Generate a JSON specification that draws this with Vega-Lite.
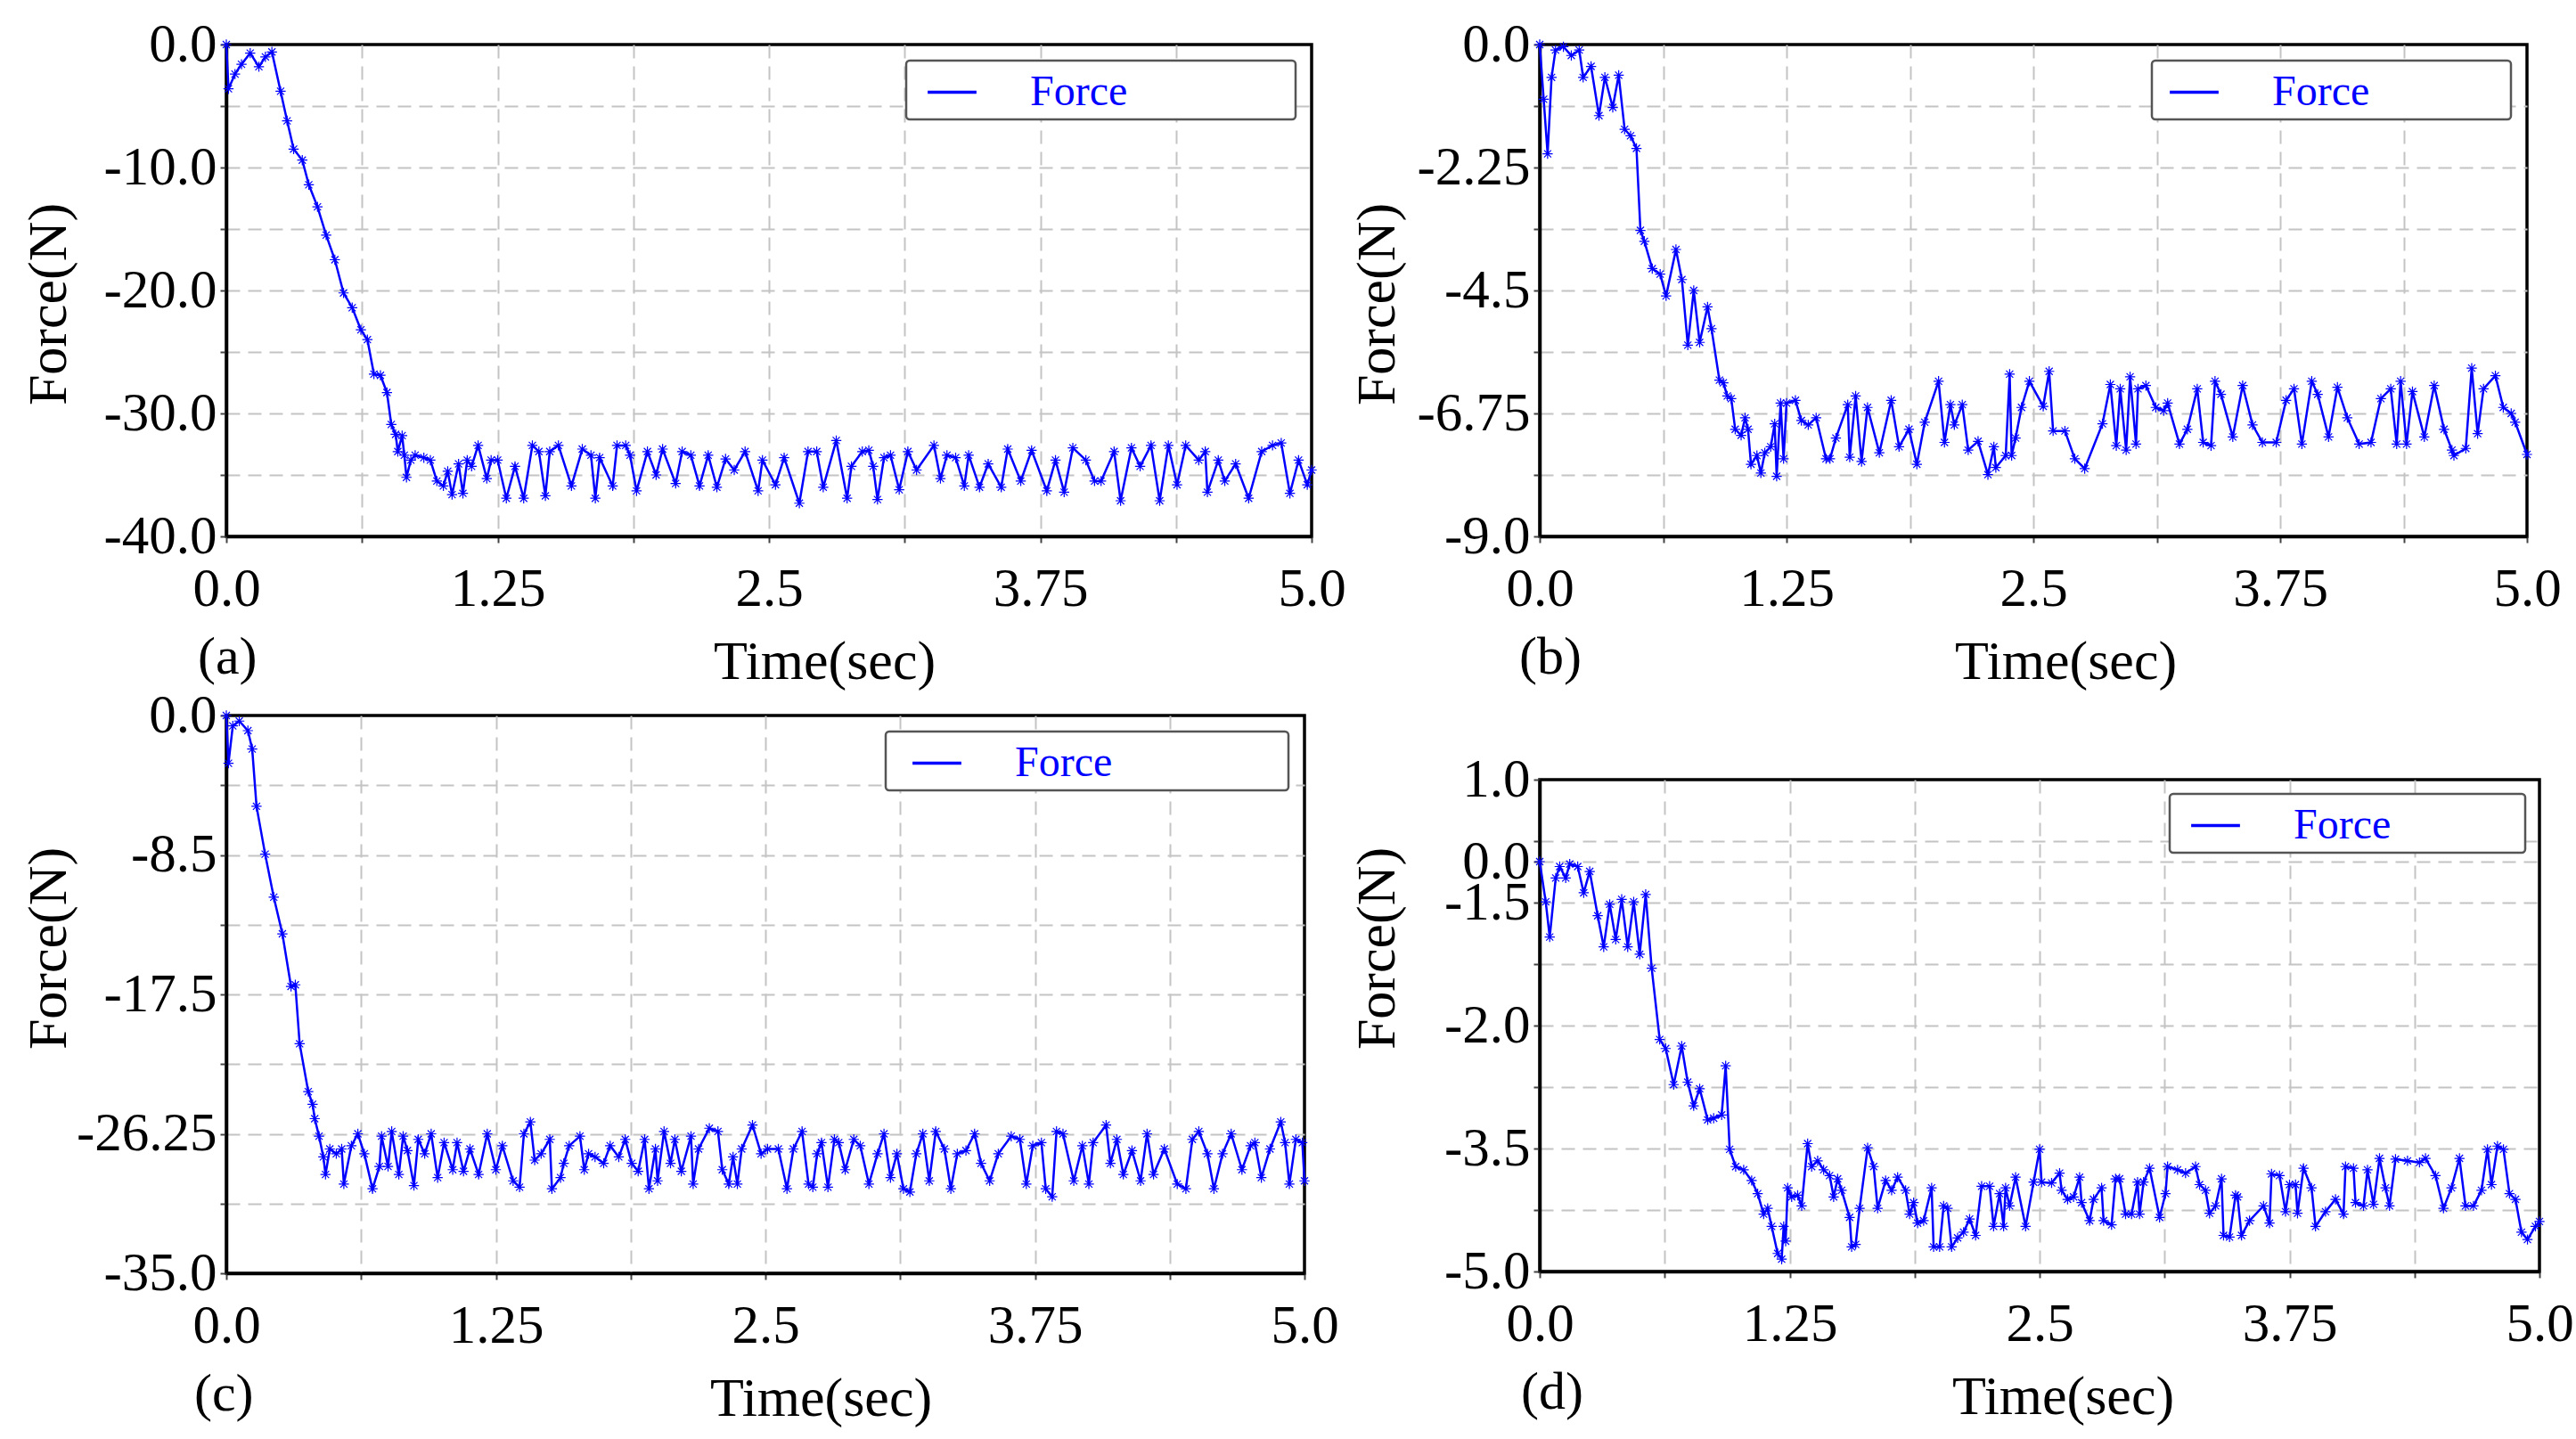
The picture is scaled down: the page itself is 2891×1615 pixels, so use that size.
{
  "$schema": "https://vega.github.io/schema/vega-lite/v6.json",
  "description": "Force vs time, four panels (a)-(d)",
  "background": "white",
  "padding": {"left": 21, "top": 17, "right": 5, "bottom": 5},
  "config": {
    "font": "Liberation Serif",
    "view": {"stroke": "black", "strokeWidth": 3.5},
    "axis": {
      "domainColor": "black", "domainWidth": 3.5,
      "grid": true, "gridColor": "#c4c4c4", "gridDash": [15, 9], "gridWidth": 2,
      "tickColor": "#444", "tickWidth": 2, "tickSize": 7,
      "labelFont": "Liberation Serif", "labelFontSize": 61, "labelColor": "black", "labelPadding": 4,
      "titleFont": "Liberation Serif", "titleFontSize": 62, "titleFontWeight": "normal", "titleColor": "black",
      "labelFlush": false, "labelOverlap": false, "labelBound": false
    },
    "axisX": {"labelPadding": 22, "titleBaseline": "alphabetic", "titleY": 159, "titleAnchor": "middle", "titleAlign": "center",
      "gridOpacity": {"condition": {"test": "datum.value == 0 || datum.value == 5", "value": 0}, "value": 1}},
    "axisY": {"titleBaseline": "middle", "titleAngle": -90},
    "legend": {
      "title": null, "orient": "top-right", "offset": 18,
      "fillColor": "white", "strokeColor": "#555", "strokeWidth": 2.5, "cornerRadius": 4, "padding": 6,
      "symbolSize": 3000, "symbolStrokeWidth": 3.5, "symbolStrokeColor": "#0000ff", "symbolFillColor": "transparent", "symbolOffset": 16,
      "labelOffset": 58, "labelFont": "Liberation Serif", "labelFontSize": 48, "labelColor": "#0000ff", "labelLimit": 600
    },
    "title": {"orient": "bottom", "anchor": "start", "frame": "group", "font": "Liberation Serif", "fontSize": 60, "fontWeight": "normal", "color": "black", "baseline": "top", "offset": 0}
  },
  "datasets": {
    "a": [
      {"t": 0, "f": 0}, {"t": 0.01, "f": -3.6}, {"t": 0.04, "f": -2.4}, {"t": 0.07, "f": -1.6}, {"t": 0.11, "f": -0.7},
      {"t": 0.15, "f": -1.8}, {"t": 0.18, "f": -1.0}, {"t": 0.21, "f": -0.6}, {"t": 0.25, "f": -3.8}, {"t": 0.28, "f": -6.2},
      {"t": 0.31, "f": -8.5}, {"t": 0.35, "f": -9.4}, {"t": 0.38, "f": -11.4}, {"t": 0.42, "f": -13.2}, {"t": 0.46, "f": -15.5},
      {"t": 0.5, "f": -17.5}, {"t": 0.54, "f": -20.2}, {"t": 0.58, "f": -21.4}, {"t": 0.62, "f": -23.2}, {"t": 0.65, "f": -24.0},
      {"t": 0.68, "f": -26.8}, {"t": 0.71, "f": -26.9}, {"t": 0.74, "f": -28.3}, {"t": 0.76, "f": -30.9}, {"t": 0.78, "f": -31.7},
      {"t": 0.79, "f": -33.1}, {"t": 0.81, "f": -31.8}, {"t": 0.82, "f": -33.4}, {"t": 0.83, "f": -35.2}, {"t": 0.85, "f": -33.8},
      {"t": 0.87, "f": -33.4}, {"t": 0.91, "f": -33.6}, {"t": 0.94, "f": -33.8}, {"t": 0.97, "f": -35.5}, {"t": 1.0, "f": -35.9},
      {"t": 1.02, "f": -34.7}, {"t": 1.04, "f": -36.6}, {"t": 1.07, "f": -34.1}, {"t": 1.09, "f": -36.5}, {"t": 1.11, "f": -33.8},
      {"t": 1.13, "f": -34.3}, {"t": 1.16, "f": -32.6}, {"t": 1.2, "f": -35.3}, {"t": 1.22, "f": -33.8}, {"t": 1.25, "f": -33.8},
      {"t": 1.29, "f": -36.9}, {"t": 1.33, "f": -34.3}, {"t": 1.37, "f": -36.9}, {"t": 1.41, "f": -32.6}, {"t": 1.44, "f": -33.1},
      {"t": 1.47, "f": -36.7}, {"t": 1.49, "f": -33.1}, {"t": 1.53, "f": -32.6}, {"t": 1.59, "f": -35.9}, {"t": 1.64, "f": -32.9},
      {"t": 1.68, "f": -33.4}, {"t": 1.7, "f": -36.9}, {"t": 1.72, "f": -33.6}, {"t": 1.78, "f": -35.9}, {"t": 1.8, "f": -32.6},
      {"t": 1.84, "f": -32.6}, {"t": 1.86, "f": -33.4}, {"t": 1.89, "f": -36.3}, {"t": 1.94, "f": -33.1}, {"t": 1.98, "f": -35.0},
      {"t": 2.01, "f": -32.9}, {"t": 2.07, "f": -35.7}, {"t": 2.1, "f": -33.1}, {"t": 2.14, "f": -33.4}, {"t": 2.18, "f": -35.9},
      {"t": 2.22, "f": -33.4}, {"t": 2.26, "f": -36.0}, {"t": 2.3, "f": -33.7}, {"t": 2.34, "f": -34.6}, {"t": 2.39, "f": -33.1},
      {"t": 2.45, "f": -36.3}, {"t": 2.47, "f": -33.8}, {"t": 2.53, "f": -35.8}, {"t": 2.57, "f": -33.6}, {"t": 2.64, "f": -37.3},
      {"t": 2.68, "f": -33.1}, {"t": 2.72, "f": -33.1}, {"t": 2.75, "f": -36.0}, {"t": 2.81, "f": -32.2}, {"t": 2.86, "f": -36.9},
      {"t": 2.88, "f": -34.3}, {"t": 2.93, "f": -33.1}, {"t": 2.96, "f": -33.0}, {"t": 2.98, "f": -34.3}, {"t": 3.0, "f": -37.0},
      {"t": 3.03, "f": -33.6}, {"t": 3.06, "f": -33.4}, {"t": 3.1, "f": -36.2}, {"t": 3.14, "f": -33.1}, {"t": 3.18, "f": -34.6},
      {"t": 3.26, "f": -32.6}, {"t": 3.29, "f": -35.3}, {"t": 3.32, "f": -33.4}, {"t": 3.36, "f": -33.6}, {"t": 3.4, "f": -35.9},
      {"t": 3.42, "f": -33.4}, {"t": 3.47, "f": -36.0}, {"t": 3.51, "f": -34.1}, {"t": 3.57, "f": -36.0}, {"t": 3.6, "f": -32.9},
      {"t": 3.66, "f": -35.5}, {"t": 3.71, "f": -33.0}, {"t": 3.78, "f": -36.3}, {"t": 3.82, "f": -33.8}, {"t": 3.86, "f": -36.4},
      {"t": 3.9, "f": -32.8}, {"t": 3.96, "f": -33.8}, {"t": 4.0, "f": -35.5}, {"t": 4.03, "f": -35.5}, {"t": 4.09, "f": -33.1},
      {"t": 4.12, "f": -37.1}, {"t": 4.17, "f": -32.8}, {"t": 4.21, "f": -34.3}, {"t": 4.26, "f": -32.6}, {"t": 4.3, "f": -37.1},
      {"t": 4.34, "f": -32.6}, {"t": 4.38, "f": -35.8}, {"t": 4.42, "f": -32.6}, {"t": 4.48, "f": -33.8}, {"t": 4.51, "f": -33.1},
      {"t": 4.52, "f": -36.4}, {"t": 4.57, "f": -33.8}, {"t": 4.6, "f": -35.5}, {"t": 4.65, "f": -34.1}, {"t": 4.71, "f": -36.9},
      {"t": 4.77, "f": -33.1}, {"t": 4.82, "f": -32.6}, {"t": 4.86, "f": -32.4}, {"t": 4.9, "f": -36.5}, {"t": 4.94, "f": -33.8},
      {"t": 4.98, "f": -35.8}, {"t": 5.0, "f": -34.6}
    ],
    "b": [
      {"t": 0, "f": 0}, {"t": 0.02, "f": -1.0}, {"t": 0.04, "f": -2.0}, {"t": 0.06, "f": -0.6}, {"t": 0.08, "f": -0.1},
      {"t": 0.12, "f": -0.04}, {"t": 0.16, "f": -0.2}, {"t": 0.2, "f": -0.1}, {"t": 0.22, "f": -0.6}, {"t": 0.26, "f": -0.4},
      {"t": 0.3, "f": -1.3}, {"t": 0.33, "f": -0.6}, {"t": 0.37, "f": -1.15}, {"t": 0.4, "f": -0.56}, {"t": 0.43, "f": -1.55},
      {"t": 0.46, "f": -1.67}, {"t": 0.49, "f": -1.9}, {"t": 0.51, "f": -3.4}, {"t": 0.53, "f": -3.6}, {"t": 0.57, "f": -4.1},
      {"t": 0.61, "f": -4.2}, {"t": 0.64, "f": -4.6}, {"t": 0.69, "f": -3.75}, {"t": 0.72, "f": -4.3}, {"t": 0.75, "f": -5.5},
      {"t": 0.78, "f": -4.5}, {"t": 0.81, "f": -5.45}, {"t": 0.85, "f": -4.8}, {"t": 0.87, "f": -5.2}, {"t": 0.91, "f": -6.14},
      {"t": 0.93, "f": -6.19}, {"t": 0.95, "f": -6.43}, {"t": 0.97, "f": -6.48}, {"t": 0.99, "f": -7.04}, {"t": 1.02, "f": -7.15},
      {"t": 1.04, "f": -6.83}, {"t": 1.055, "f": -7.04}, {"t": 1.07, "f": -7.68}, {"t": 1.1, "f": -7.52}, {"t": 1.12, "f": -7.84},
      {"t": 1.14, "f": -7.47}, {"t": 1.17, "f": -7.36}, {"t": 1.19, "f": -6.94}, {"t": 1.2, "f": -7.9}, {"t": 1.22, "f": -6.56},
      {"t": 1.235, "f": -7.58}, {"t": 1.25, "f": -6.56}, {"t": 1.295, "f": -6.51}, {"t": 1.325, "f": -6.88}, {"t": 1.36, "f": -6.96},
      {"t": 1.4, "f": -6.83}, {"t": 1.45, "f": -7.58}, {"t": 1.47, "f": -7.58}, {"t": 1.5, "f": -7.2}, {"t": 1.56, "f": -6.59},
      {"t": 1.57, "f": -7.55}, {"t": 1.6, "f": -6.43}, {"t": 1.63, "f": -7.63}, {"t": 1.66, "f": -6.64}, {"t": 1.72, "f": -7.47},
      {"t": 1.78, "f": -6.51}, {"t": 1.82, "f": -7.36}, {"t": 1.87, "f": -7.04}, {"t": 1.91, "f": -7.68}, {"t": 1.95, "f": -6.91},
      {"t": 2.02, "f": -6.16}, {"t": 2.05, "f": -7.28}, {"t": 2.08, "f": -6.59}, {"t": 2.1, "f": -6.96}, {"t": 2.14, "f": -6.59},
      {"t": 2.17, "f": -7.42}, {"t": 2.22, "f": -7.26}, {"t": 2.27, "f": -7.87}, {"t": 2.3, "f": -7.36}, {"t": 2.31, "f": -7.74},
      {"t": 2.36, "f": -7.52}, {"t": 2.38, "f": -6.03}, {"t": 2.39, "f": -7.52}, {"t": 2.41, "f": -7.2}, {"t": 2.44, "f": -6.64},
      {"t": 2.48, "f": -6.16}, {"t": 2.55, "f": -6.62}, {"t": 2.58, "f": -5.98}, {"t": 2.6, "f": -7.07}, {"t": 2.66, "f": -7.07},
      {"t": 2.71, "f": -7.58}, {"t": 2.76, "f": -7.76}, {"t": 2.85, "f": -6.94}, {"t": 2.89, "f": -6.22}, {"t": 2.92, "f": -7.34},
      {"t": 2.94, "f": -6.3}, {"t": 2.97, "f": -7.42}, {"t": 2.99, "f": -6.08}, {"t": 3.02, "f": -7.31}, {"t": 3.03, "f": -6.3},
      {"t": 3.07, "f": -6.24}, {"t": 3.12, "f": -6.64}, {"t": 3.16, "f": -6.7}, {"t": 3.18, "f": -6.56}, {"t": 3.24, "f": -7.31},
      {"t": 3.28, "f": -7.04}, {"t": 3.33, "f": -6.3}, {"t": 3.36, "f": -7.28}, {"t": 3.4, "f": -7.34}, {"t": 3.42, "f": -6.16},
      {"t": 3.45, "f": -6.4}, {"t": 3.51, "f": -7.18}, {"t": 3.56, "f": -6.24}, {"t": 3.61, "f": -6.96}, {"t": 3.66, "f": -7.28},
      {"t": 3.73, "f": -7.28}, {"t": 3.78, "f": -6.51}, {"t": 3.82, "f": -6.3}, {"t": 3.86, "f": -7.31}, {"t": 3.91, "f": -6.16},
      {"t": 3.94, "f": -6.4}, {"t": 3.995, "f": -7.18}, {"t": 4.04, "f": -6.27}, {"t": 4.09, "f": -6.83}, {"t": 4.15, "f": -7.31},
      {"t": 4.21, "f": -7.28}, {"t": 4.26, "f": -6.48}, {"t": 4.31, "f": -6.3}, {"t": 4.34, "f": -7.31}, {"t": 4.36, "f": -6.16},
      {"t": 4.39, "f": -7.31}, {"t": 4.42, "f": -6.35}, {"t": 4.48, "f": -7.18}, {"t": 4.53, "f": -6.24}, {"t": 4.58, "f": -7.04},
      {"t": 4.62, "f": -7.42}, {"t": 4.63, "f": -7.52}, {"t": 4.69, "f": -7.39}, {"t": 4.72, "f": -5.92}, {"t": 4.75, "f": -7.12},
      {"t": 4.78, "f": -6.3}, {"t": 4.84, "f": -6.06}, {"t": 4.88, "f": -6.64}, {"t": 4.92, "f": -6.75}, {"t": 4.94, "f": -6.91},
      {"t": 5.0, "f": -7.5}
    ],
    "c": [
      {"t": 0, "f": 0}, {"t": 0.01, "f": -3.0}, {"t": 0.03, "f": -0.65}, {"t": 0.06, "f": -0.35}, {"t": 0.1, "f": -0.95},
      {"t": 0.12, "f": -2.1}, {"t": 0.14, "f": -5.7}, {"t": 0.18, "f": -8.7}, {"t": 0.22, "f": -11.4}, {"t": 0.26, "f": -13.7},
      {"t": 0.3, "f": -17.0}, {"t": 0.32, "f": -16.9}, {"t": 0.34, "f": -20.6}, {"t": 0.38, "f": -23.6}, {"t": 0.4, "f": -24.4},
      {"t": 0.41, "f": -25.3}, {"t": 0.43, "f": -26.4}, {"t": 0.45, "f": -27.7}, {"t": 0.46, "f": -28.8}, {"t": 0.48, "f": -27.2},
      {"t": 0.51, "f": -27.5}, {"t": 0.535, "f": -27.2}, {"t": 0.545, "f": -29.4}, {"t": 0.58, "f": -27.0}, {"t": 0.61, "f": -26.25},
      {"t": 0.64, "f": -27.5}, {"t": 0.678, "f": -29.7}, {"t": 0.71, "f": -28.3}, {"t": 0.72, "f": -26.4}, {"t": 0.75, "f": -28.3},
      {"t": 0.767, "f": -26.1}, {"t": 0.8, "f": -28.8}, {"t": 0.82, "f": -26.4}, {"t": 0.84, "f": -27.3}, {"t": 0.87, "f": -29.5},
      {"t": 0.89, "f": -26.6}, {"t": 0.92, "f": -27.5}, {"t": 0.95, "f": -26.25}, {"t": 0.98, "f": -29.0}, {"t": 1.01, "f": -26.8},
      {"t": 1.05, "f": -28.5}, {"t": 1.07, "f": -26.8}, {"t": 1.1, "f": -28.6}, {"t": 1.13, "f": -27.2}, {"t": 1.17, "f": -28.8},
      {"t": 1.21, "f": -26.25}, {"t": 1.25, "f": -28.5}, {"t": 1.28, "f": -27.0}, {"t": 1.33, "f": -29.2}, {"t": 1.36, "f": -29.6},
      {"t": 1.38, "f": -26.25}, {"t": 1.41, "f": -25.5}, {"t": 1.43, "f": -27.9}, {"t": 1.46, "f": -27.5}, {"t": 1.5, "f": -26.6},
      {"t": 1.51, "f": -29.7}, {"t": 1.55, "f": -29.0}, {"t": 1.565, "f": -28.1}, {"t": 1.59, "f": -27.0}, {"t": 1.64, "f": -26.4},
      {"t": 1.66, "f": -28.5}, {"t": 1.68, "f": -27.5}, {"t": 1.71, "f": -27.7}, {"t": 1.75, "f": -28.1}, {"t": 1.78, "f": -27.0},
      {"t": 1.82, "f": -27.7}, {"t": 1.85, "f": -26.6}, {"t": 1.88, "f": -28.1}, {"t": 1.91, "f": -28.6}, {"t": 1.94, "f": -26.6},
      {"t": 1.96, "f": -29.7}, {"t": 1.99, "f": -27.2}, {"t": 2.0, "f": -29.2}, {"t": 2.03, "f": -26.1}, {"t": 2.06, "f": -28.1},
      {"t": 2.08, "f": -26.6}, {"t": 2.11, "f": -28.6}, {"t": 2.155, "f": -26.4}, {"t": 2.165, "f": -29.4}, {"t": 2.19, "f": -27.2},
      {"t": 2.24, "f": -25.9}, {"t": 2.28, "f": -26.1}, {"t": 2.3, "f": -28.5}, {"t": 2.33, "f": -29.4}, {"t": 2.35, "f": -27.7},
      {"t": 2.37, "f": -29.4}, {"t": 2.39, "f": -27.2}, {"t": 2.44, "f": -25.7}, {"t": 2.48, "f": -27.5}, {"t": 2.51, "f": -27.2},
      {"t": 2.56, "f": -27.2}, {"t": 2.6, "f": -29.7}, {"t": 2.63, "f": -27.2}, {"t": 2.67, "f": -26.1}, {"t": 2.7, "f": -29.4},
      {"t": 2.72, "f": -29.6}, {"t": 2.74, "f": -27.5}, {"t": 2.76, "f": -26.8}, {"t": 2.79, "f": -29.6}, {"t": 2.82, "f": -26.6},
      {"t": 2.84, "f": -26.8}, {"t": 2.87, "f": -28.5}, {"t": 2.91, "f": -26.6}, {"t": 2.94, "f": -27.0}, {"t": 2.98, "f": -29.4},
      {"t": 3.02, "f": -27.5}, {"t": 3.05, "f": -26.25}, {"t": 3.08, "f": -29.0}, {"t": 3.11, "f": -27.5}, {"t": 3.14, "f": -29.7},
      {"t": 3.17, "f": -29.9}, {"t": 3.2, "f": -27.5}, {"t": 3.23, "f": -26.25}, {"t": 3.26, "f": -29.2}, {"t": 3.29, "f": -26.1},
      {"t": 3.33, "f": -27.2}, {"t": 3.36, "f": -29.7}, {"t": 3.39, "f": -27.5}, {"t": 3.43, "f": -27.3}, {"t": 3.47, "f": -26.25},
      {"t": 3.5, "f": -28.1}, {"t": 3.54, "f": -29.2}, {"t": 3.58, "f": -27.5}, {"t": 3.64, "f": -26.4}, {"t": 3.68, "f": -26.6},
      {"t": 3.71, "f": -29.4}, {"t": 3.74, "f": -27.0}, {"t": 3.78, "f": -26.8}, {"t": 3.8, "f": -29.7}, {"t": 3.83, "f": -30.2},
      {"t": 3.85, "f": -26.1}, {"t": 3.88, "f": -26.25}, {"t": 3.93, "f": -29.2}, {"t": 3.97, "f": -27.0}, {"t": 4.0, "f": -29.4},
      {"t": 4.02, "f": -26.8}, {"t": 4.08, "f": -25.7}, {"t": 4.1, "f": -28.1}, {"t": 4.13, "f": -26.6}, {"t": 4.16, "f": -28.8},
      {"t": 4.2, "f": -27.3}, {"t": 4.24, "f": -29.2}, {"t": 4.27, "f": -26.25}, {"t": 4.3, "f": -28.8}, {"t": 4.35, "f": -27.2},
      {"t": 4.41, "f": -29.4}, {"t": 4.45, "f": -29.7}, {"t": 4.48, "f": -26.6}, {"t": 4.51, "f": -26.1}, {"t": 4.55, "f": -27.5},
      {"t": 4.58, "f": -29.7}, {"t": 4.62, "f": -27.5}, {"t": 4.66, "f": -26.25}, {"t": 4.71, "f": -28.5}, {"t": 4.75, "f": -27.0},
      {"t": 4.77, "f": -26.8}, {"t": 4.8, "f": -29.0}, {"t": 4.84, "f": -27.2}, {"t": 4.89, "f": -25.5}, {"t": 4.91, "f": -26.8},
      {"t": 4.93, "f": -29.4}, {"t": 4.96, "f": -26.6}, {"t": 4.99, "f": -26.8}, {"t": 5.0, "f": -29.2}
    ],
    "d": [
      {"t": 0, "f": 0}, {"t": 0.03, "f": -0.49}, {"t": 0.05, "f": -0.92}, {"t": 0.08, "f": -0.2}, {"t": 0.1, "f": -0.06},
      {"t": 0.13, "f": -0.2}, {"t": 0.15, "f": -0.03}, {"t": 0.19, "f": -0.06}, {"t": 0.22, "f": -0.38}, {"t": 0.25, "f": -0.12},
      {"t": 0.29, "f": -0.66}, {"t": 0.32, "f": -1.04}, {"t": 0.35, "f": -0.52}, {"t": 0.38, "f": -0.95}, {"t": 0.41, "f": -0.46},
      {"t": 0.44, "f": -1.04}, {"t": 0.47, "f": -0.49}, {"t": 0.5, "f": -1.13}, {"t": 0.53, "f": -0.4}, {"t": 0.56, "f": -1.3},
      {"t": 0.6, "f": -2.17}, {"t": 0.63, "f": -2.28}, {"t": 0.67, "f": -2.72}, {"t": 0.71, "f": -2.25}, {"t": 0.74, "f": -2.69},
      {"t": 0.77, "f": -2.98}, {"t": 0.8, "f": -2.77}, {"t": 0.84, "f": -3.15}, {"t": 0.87, "f": -3.13}, {"t": 0.91, "f": -3.09},
      {"t": 0.93, "f": -2.49}, {"t": 0.95, "f": -3.51}, {"t": 0.98, "f": -3.72}, {"t": 1.02, "f": -3.76}, {"t": 1.06, "f": -3.89},
      {"t": 1.09, "f": -4.05}, {"t": 1.12, "f": -4.3}, {"t": 1.14, "f": -4.23}, {"t": 1.16, "f": -4.45}, {"t": 1.19, "f": -4.78},
      {"t": 1.21, "f": -4.85}, {"t": 1.22, "f": -4.45}, {"t": 1.23, "f": -4.63}, {"t": 1.24, "f": -3.98}, {"t": 1.26, "f": -4.09},
      {"t": 1.29, "f": -4.07}, {"t": 1.31, "f": -4.2}, {"t": 1.34, "f": -3.44}, {"t": 1.36, "f": -3.72}, {"t": 1.39, "f": -3.65},
      {"t": 1.42, "f": -3.76}, {"t": 1.45, "f": -3.83}, {"t": 1.47, "f": -4.09}, {"t": 1.49, "f": -3.87}, {"t": 1.51, "f": -4.01},
      {"t": 1.55, "f": -4.34}, {"t": 1.56, "f": -4.7}, {"t": 1.58, "f": -4.67}, {"t": 1.6, "f": -4.23}, {"t": 1.64, "f": -3.49},
      {"t": 1.67, "f": -3.72}, {"t": 1.69, "f": -4.23}, {"t": 1.73, "f": -3.89}, {"t": 1.76, "f": -4.01}, {"t": 1.79, "f": -3.85},
      {"t": 1.83, "f": -4.01}, {"t": 1.85, "f": -4.3}, {"t": 1.87, "f": -4.16}, {"t": 1.89, "f": -4.41}, {"t": 1.92, "f": -4.38},
      {"t": 1.96, "f": -3.98}, {"t": 1.97, "f": -4.7}, {"t": 2.0, "f": -4.7}, {"t": 2.02, "f": -4.2}, {"t": 2.04, "f": -4.23},
      {"t": 2.06, "f": -4.7}, {"t": 2.09, "f": -4.59}, {"t": 2.12, "f": -4.52}, {"t": 2.15, "f": -4.36}, {"t": 2.18, "f": -4.56},
      {"t": 2.21, "f": -3.96}, {"t": 2.25, "f": -3.96}, {"t": 2.27, "f": -4.45}, {"t": 2.3, "f": -4.05}, {"t": 2.32, "f": -4.45},
      {"t": 2.33, "f": -3.98}, {"t": 2.35, "f": -4.2}, {"t": 2.38, "f": -3.85}, {"t": 2.43, "f": -4.45}, {"t": 2.47, "f": -3.91},
      {"t": 2.5, "f": -3.51}, {"t": 2.51, "f": -3.91}, {"t": 2.56, "f": -3.92}, {"t": 2.6, "f": -3.8}, {"t": 2.61, "f": -4.01},
      {"t": 2.64, "f": -4.12}, {"t": 2.67, "f": -4.09}, {"t": 2.7, "f": -3.85}, {"t": 2.71, "f": -4.16}, {"t": 2.75, "f": -4.38},
      {"t": 2.77, "f": -4.12}, {"t": 2.81, "f": -3.98}, {"t": 2.82, "f": -4.38}, {"t": 2.86, "f": -4.43}, {"t": 2.88, "f": -3.87},
      {"t": 2.9, "f": -3.87}, {"t": 2.93, "f": -4.3}, {"t": 2.96, "f": -4.3}, {"t": 2.99, "f": -3.91}, {"t": 3.0, "f": -4.3},
      {"t": 3.02, "f": -3.91}, {"t": 3.05, "f": -3.74}, {"t": 3.1, "f": -4.34}, {"t": 3.13, "f": -4.05}, {"t": 3.14, "f": -3.72},
      {"t": 3.19, "f": -3.76}, {"t": 3.23, "f": -3.8}, {"t": 3.28, "f": -3.72}, {"t": 3.3, "f": -3.94}, {"t": 3.33, "f": -4.01},
      {"t": 3.35, "f": -4.29}, {"t": 3.38, "f": -4.2}, {"t": 3.41, "f": -3.87}, {"t": 3.42, "f": -4.56}, {"t": 3.45, "f": -4.58},
      {"t": 3.48, "f": -4.07}, {"t": 3.49, "f": -4.09}, {"t": 3.51, "f": -4.56}, {"t": 3.55, "f": -4.38}, {"t": 3.62, "f": -4.2},
      {"t": 3.65, "f": -4.41}, {"t": 3.66, "f": -3.81}, {"t": 3.7, "f": -3.83}, {"t": 3.73, "f": -4.27}, {"t": 3.75, "f": -3.94},
      {"t": 3.78, "f": -3.94}, {"t": 3.79, "f": -4.29}, {"t": 3.82, "f": -3.74}, {"t": 3.86, "f": -3.98}, {"t": 3.88, "f": -4.45},
      {"t": 3.93, "f": -4.27}, {"t": 3.98, "f": -4.12}, {"t": 4.02, "f": -4.3}, {"t": 4.03, "f": -3.72}, {"t": 4.07, "f": -3.74},
      {"t": 4.08, "f": -4.16}, {"t": 4.12, "f": -4.2}, {"t": 4.14, "f": -3.76}, {"t": 4.17, "f": -4.18}, {"t": 4.2, "f": -3.62},
      {"t": 4.23, "f": -3.98}, {"t": 4.25, "f": -4.2}, {"t": 4.28, "f": -3.63}, {"t": 4.34, "f": -3.65}, {"t": 4.4, "f": -3.67},
      {"t": 4.43, "f": -3.62}, {"t": 4.48, "f": -3.83}, {"t": 4.52, "f": -4.23}, {"t": 4.56, "f": -3.98}, {"t": 4.6, "f": -3.62},
      {"t": 4.63, "f": -4.2}, {"t": 4.67, "f": -4.2}, {"t": 4.71, "f": -4.01}, {"t": 4.74, "f": -3.51}, {"t": 4.76, "f": -3.94},
      {"t": 4.79, "f": -3.47}, {"t": 4.82, "f": -3.51}, {"t": 4.85, "f": -4.05}, {"t": 4.88, "f": -4.12}, {"t": 4.91, "f": -4.52},
      {"t": 4.94, "f": -4.61}, {"t": 4.98, "f": -4.45}, {"t": 5.0, "f": -4.39}
    ]
  },
  "resolve": {"scale": {"color": "independent"}, "legend": {"color": "independent"}},
  "spacing": 0,
  "hconcat": [
    {
      "bounds": "flush",
      "spacing": 201,
      "resolve": {"scale": {"color": "independent"}, "legend": {"color": "independent"}},
      "vconcat": [
        {
          "width": 1218, "height": 552,
          "data": {"name": "a"},
          "title": {"text": "(a)", "dx": -32, "dy": -68},
          "mark": {"type": "line", "strokeWidth": 2.5, "point": {"shape": "M-1,0L1,0M0,-1L0,1M-0.7,-0.7L0.7,0.7M-0.7,0.7L0.7,-0.7", "filled": false, "size": 130, "strokeWidth": 1.2}},
          "encoding": {
            "x": {"field": "t", "type": "quantitative", "scale": {"domain": [0, 5], "nice": false},
              "axis": {"title": "Time(sec)", "titleX": 671, "values": [0, 0.625, 1.25, 1.875, 2.5, 3.125, 3.75, 4.375, 5],
                "labelExpr": "datum.value == 0 ? '0.0' : datum.value == 5 ? '5.0' : (datum.value * 100) % 125 == 0 ? datum.value + '' : ''"}},
            "y": {"field": "f", "type": "quantitative", "scale": {"domain": [-40, 0], "nice": false, "zero": false},
              "axis": {"title": "Force(N)", "titleX": -200, "titleY": 291, "values": [0, -5, -10, -15, -20, -25, -30, -35, -40],
                "gridOpacity": {"condition": {"test": "datum.value == 0 || datum.value == -40", "value": 0}, "value": 1},
                "labelExpr": "datum.value % 10 == 0 ? (datum.value == 0 ? '0.0' : datum.value + '.0') : ''"}},
            "color": {"datum": "Force", "scale": {"range": ["#0000ff"]},
              "legend": {"symbolType": "M-1,0L1,0M13.6,0"}}
          }
        },
        {
          "width": 1210, "height": 626,
          "data": {"name": "c"},
          "title": {"text": "(c)", "dx": -36, "dy": -68},
          "mark": {"type": "line", "strokeWidth": 2.5, "point": {"shape": "M-1,0L1,0M0,-1L0,1M-0.7,-0.7L0.7,0.7M-0.7,0.7L0.7,-0.7", "filled": false, "size": 130, "strokeWidth": 1.2}},
          "encoding": {
            "x": {"field": "t", "type": "quantitative", "scale": {"domain": [0, 5], "nice": false},
              "axis": {"title": "Time(sec)", "titleX": 667, "values": [0, 0.625, 1.25, 1.875, 2.5, 3.125, 3.75, 4.375, 5],
                "labelExpr": "datum.value == 0 ? '0.0' : datum.value == 5 ? '5.0' : (datum.value * 100) % 125 == 0 ? datum.value + '' : ''"}},
            "y": {"field": "f", "type": "quantitative", "scale": {"domain": [-35, 0], "nice": false, "zero": false},
              "axis": {"title": "Force(N)", "titleX": -200, "titleY": 261, "values": [0, -4.375, -8.75, -13.125, -17.5, -21.875, -26.25, -30.625, -35],
                "gridOpacity": {"condition": {"test": "datum.value == 0 || datum.value == -35", "value": 0}, "value": 1},
                "labelExpr": "datum.value == 0 ? '0.0' : datum.value == -8.75 ? '-8.5' : datum.value == -17.5 ? '-17.5' : datum.value == -26.25 ? '-26.25' : datum.value == -35 ? '-35.0' : ''"}},
            "color": {"datum": "Force", "scale": {"range": ["#0000ff"]},
              "legend": {"symbolType": "M-1,0L1,0M13.9,0", "symbolOffset": 22}}
          }
        }
      ]
    },
    {
      "bounds": "flush",
      "spacing": 273,
      "resolve": {"scale": {"color": "independent"}, "legend": {"color": "independent"}},
      "vconcat": [
        {
          "width": 1108, "height": 552,
          "data": {"name": "b"},
          "title": {"text": "(b)", "dx": -23, "dy": -68},
          "mark": {"type": "line", "strokeWidth": 2.5, "point": {"shape": "M-1,0L1,0M0,-1L0,1M-0.7,-0.7L0.7,0.7M-0.7,0.7L0.7,-0.7", "filled": false, "size": 130, "strokeWidth": 1.2}},
          "encoding": {
            "x": {"field": "t", "type": "quantitative", "scale": {"domain": [0, 5], "nice": false},
              "axis": {"title": "Time(sec)", "titleX": 590, "values": [0, 0.625, 1.25, 1.875, 2.5, 3.125, 3.75, 4.375, 5],
                "labelExpr": "datum.value == 0 ? '0.0' : datum.value == 5 ? '5.0' : (datum.value * 100) % 125 == 0 ? datum.value + '' : ''"}},
            "y": {"field": "f", "type": "quantitative", "scale": {"domain": [-9, 0], "nice": false, "zero": false},
              "axis": {"title": "Force(N)", "titleX": -183, "titleY": 291, "values": [0, -1.125, -2.25, -3.375, -4.5, -5.625, -6.75, -7.875, -9],
                "gridOpacity": {"condition": {"test": "datum.value == 0 || datum.value == -9", "value": 0}, "value": 1},
                "labelExpr": "datum.value == 0 ? '0.0' : datum.value == -9 ? '-9.0' : (datum.value * 1000) % 2250 == 0 ? datum.value + '' : ''"}},
            "color": {"datum": "Force", "scale": {"range": ["#0000ff"]},
              "legend": {"symbolType": "M-1,0L1,0M12.5,0", "symbolOffset": 12}}
          }
        },
        {
          "width": 1122, "height": 552,
          "title": {"text": "(d)", "dx": -21, "dy": -68},
          "layer": [
            {
              "mark": {"type": "rule", "color": "black", "strokeWidth": 3.5},
              "encoding": {"y": {"datum": 0}}
            },
            {
              "data": {"name": "d"},
              "mark": {"type": "line", "strokeWidth": 2.5, "point": {"shape": "M-1,0L1,0M0,-1L0,1M-0.7,-0.7L0.7,0.7M-0.7,0.7L0.7,-0.7", "filled": false, "size": 130, "strokeWidth": 1.2}},
              "encoding": {
                "x": {"field": "t", "type": "quantitative", "scale": {"domain": [0, 5], "nice": false},
                  "axis": {"title": "Time(sec)", "titleX": 587, "values": [0, 0.625, 1.25, 1.875, 2.5, 3.125, 3.75, 4.375, 5],
                    "labelExpr": "datum.value == 0 ? '0.0' : datum.value == 5 ? '5.0' : (datum.value * 100) % 125 == 0 ? datum.value + '' : ''"}},
                "y": {"field": "f", "type": "quantitative", "scale": {"domain": [-5, 1], "nice": false, "zero": false},
                  "axis": {"title": "Force(N)", "titleX": -183, "titleY": 189, "values": [1, 0.25, 0, -0.5, -1.25, -2, -2.75, -3.5, -4.25, -5],
                    "gridOpacity": {"condition": {"test": "datum.value == 1 || datum.value == -5", "value": 0}, "value": 1},
                    "labelExpr": "datum.value == 1 ? '1.0' : datum.value == 0 ? '0.0' : datum.value == -0.5 ? '-1.5' : datum.value == -2 ? '-2.0' : datum.value == -3.5 ? '-3.5' : datum.value == -5 ? '-5.0' : ''"}},
                "color": {"datum": "Force", "scale": {"range": ["#0000ff"]},
                  "legend": {"symbolType": "M-1,0L1,0M12.2,0", "offset": 16}}
              }
            }
          ]
        }
      ]
    }
  ]
}
